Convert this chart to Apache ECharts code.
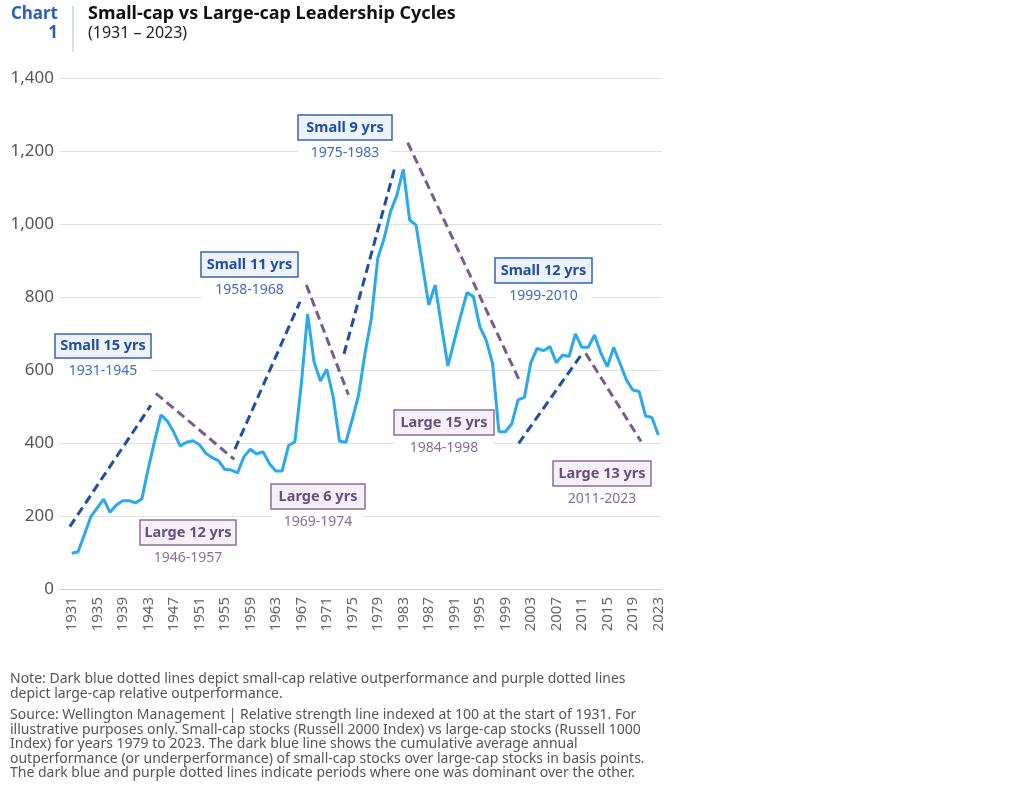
<!DOCTYPE html>
<html><head><meta charset="utf-8">
<script src="https://cdn.jsdelivr.net/npm/echarts@6/dist/echarts.min.js"></script>
<style>html,body{margin:0;padding:0;background:#fff}#c{width:1024px;height:789px}</style>
</head><body><div id="c"></div>
<script>
// ---- DATA ----
const startYear = 1931;
const relStrength = [
  98, 102, 150, 198, 222, 246, 210, 230, 242, 242,      // 1931-1940
  236, 247, 330, 405, 477, 460, 430, 392, 402, 406,     // 1941-1950
  396, 372, 360, 352, 328, 326, 318, 362, 383, 370,     // 1951-1960
  376, 344, 323, 323, 393, 403, 560, 753, 623, 570,     // 1961-1970
  602, 527, 405, 402, 465, 532, 646, 742, 906, 961,     // 1971-1980
  1034, 1079, 1150, 1011, 997, 888, 778, 833, 720, 611, // 1981-1990
  680, 748, 812, 801, 719, 682, 618, 431, 431, 452,     // 1991-2000
  518, 525, 620, 659, 653, 664, 620, 641, 637, 699,     // 2001-2010
  662, 662, 696, 646, 609, 662, 618, 573, 545, 541,     // 2011-2020
  474, 470, 422                                         // 2021-2023
];
const years = relStrength.map((_, i) => startYear + i);
const xTickLabels = [1931,1935,1939,1943,1947,1951,1955,1959,1963,1967,1971,1975,1979,1983,1987,1991,1995,1999,2003,2007,2011,2015,2019,2023];
// trend segments: [startYear, startValue, endYear, endValue]
const smallCapTrends = [
  [1930.7, 171, 1943.4, 503],
  [1956.6, 383, 1966.8, 787],
  [1973.7, 644, 1981.8, 1162],
  [2001.1, 399, 2011.1, 646]
];
const largeCapTrends = [
  [1944.2, 536, 1956.5, 355],
  [1967.8, 833, 1974.4, 532],
  [1983.7, 1223, 2001.3, 568],
  [2011.6, 646, 2020.3, 404]
];
const annotationKinds = ['small','large','small','large','small','large','small','large'];
const annotationTitles = ['Small 15 yrs','Large 12 yrs','Small 11 yrs','Large 6 yrs','Small 9 yrs','Large 15 yrs','Small 12 yrs','Large 13 yrs'];
const annotationPeriods = ['1931-1945','1946-1957','1958-1968','1969-1974','1975-1983','1984-1998','1999-2010','2011-2023'];

// ---- LAYOUT (pixels) ----
const annotationBoxes = [ // x, y, w, h
  [55,334,96,24],[140,520,96,25],[201,252,97,25],[271,484,94,25],
  [298,115,94,25],[394,410,100,25],[495,258,97,25],[553,461,98,25]
];
const FONT = '"Noto Sans", sans-serif';
const BLUE_LINE = '#2aa9ec';
const SMALL_C = '#1f4ea3';
const LARGE_C = '#7a5b8d';

const chart = echarts.init(document.getElementById('c'), null, {renderer:'canvas'});

const series = [];
series.push({
  type:'line', data: years.map((y,i)=>[y, relStrength[i]]), symbol:'none',
  lineStyle:{color:BLUE_LINE,width:3}, z:3, silent:true
});
smallCapTrends.forEach(t=>series.push({
  type:'line', data:[[t[0],t[1]],[t[2],t[3]]], symbol:'none',
  lineStyle:{color:SMALL_C,width:3,type:[9,5]}, z:2, silent:true
}));
largeCapTrends.forEach(t=>series.push({
  type:'line', data:[[t[0],t[1]],[t[2],t[3]]], symbol:'none',
  lineStyle:{color:LARGE_C,width:3,type:[9,5]}, z:2, silent:true
}));

const graphics = [
  {type:'text', right:1024-58, top:6, style:{text:'Chart', fill:'#2b5fb3', font:'bold 17px '+FONT, textAlign:'right'}},
  {type:'text', right:1024-58, top:25, style:{text:'1', fill:'#2b5fb3', font:'bold 17px '+FONT, textAlign:'right'}},
  {type:'line', shape:{x1:73,y1:6,x2:73,y2:52}, style:{stroke:'#9cc3e6', lineWidth:1}},
  {type:'text', left:88, top:5, style:{text:'Small-cap vs Large-cap Leadership Cycles', fill:'#111', font:'bold 18px '+FONT}},
  {type:'text', left:88, top:25, style:{text:'(1931 – 2023)', fill:'#222', font:'16px '+FONT}},
  {type:'text', left:10, top:672, style:{
    text:'Note: Dark blue dotted lines depict small-cap relative outperformance and purple dotted lines\ndepict large-cap relative outperformance.',
    fill:'#555', font:'14px '+FONT, lineHeight:14.5}},
  {type:'text', left:10, top:708, style:{
    text:'Source: Wellington Management | Relative strength line indexed at 100 at the start of 1931. For\nillustrative purposes only. Small-cap stocks (Russell 2000 Index) vs large-cap stocks (Russell 1000\nIndex) for years 1979 to 2023. The dark blue line shows the cumulative average annual\noutperformance (or underperformance) of small-cap stocks over large-cap stocks in basis points.\nThe dark blue and purple dotted lines indicate periods where one was dominant over the other.',
    fill:'#555', font:'14px '+FONT, lineHeight:14.5}}
];
annotationBoxes.forEach((b,i)=>{
  const small = annotationKinds[i]==='small';
  const tc = small ? SMALL_C : '#6a4d7e';
  const bc = small ? '#3763b5' : '#8a6d9c';
  const fc = small ? '#edf2fb' : '#f4f0f6';
  const pc = small ? '#3e6cbf' : '#8a6d9c';
  const cx = b[0]+b[2]/2;
  graphics.push({type:'rect', z:10, shape:{x:b[0]+1,y:b[1]+b[3],width:b[2]-2,height:24}, style:{fill:'#fff'}});
  graphics.push({type:'rect', z:11, shape:{x:b[0],y:b[1],width:b[2],height:b[3]}, style:{fill:fc, stroke:bc, lineWidth:1.5}});
  graphics.push({type:'text', z:12, x:cx, y:b[1]+b[3]/2, style:{text:annotationTitles[i], fill:tc, font:'bold 14.5px '+FONT, align:'center', verticalAlign:'middle'}});
  graphics.push({type:'text', z:12, x:cx, y:b[1]+b[3]+13, style:{text:annotationPeriods[i], fill:pc, font:'14px '+FONT, align:'center', verticalAlign:'middle'}});
});

chart.setOption({
  animation:false,
  backgroundColor:'#fff',
  grid:{left:60, right:362, top:78, bottom:200, containLabel:false},
  xAxis:{
    type:'value', min:1929.16, max:2023.58,
    splitLine:{show:false},
    axisLine:{show:true, lineStyle:{color:'#d0d0d0'}},
    axisTick:{show:false},
    axisLabel:{customValues:xTickLabels, rotate:90, color:'#666', fontSize:15, fontFamily:FONT, margin:8,
      formatter:v=>String(v)}
  },
  yAxis:{
    type:'value', min:0, max:1400, interval:200,
    axisLine:{show:false}, axisTick:{show:false},
    splitLine:{lineStyle:{color:'#e2e2e2', width:1}},
    axisLabel:{color:'#555', fontSize:17, fontFamily:FONT, margin:6,
      formatter:v=>v.toLocaleString('en-US')}
  },
  series: series,
  graphic: graphics
});
</script></body></html>
